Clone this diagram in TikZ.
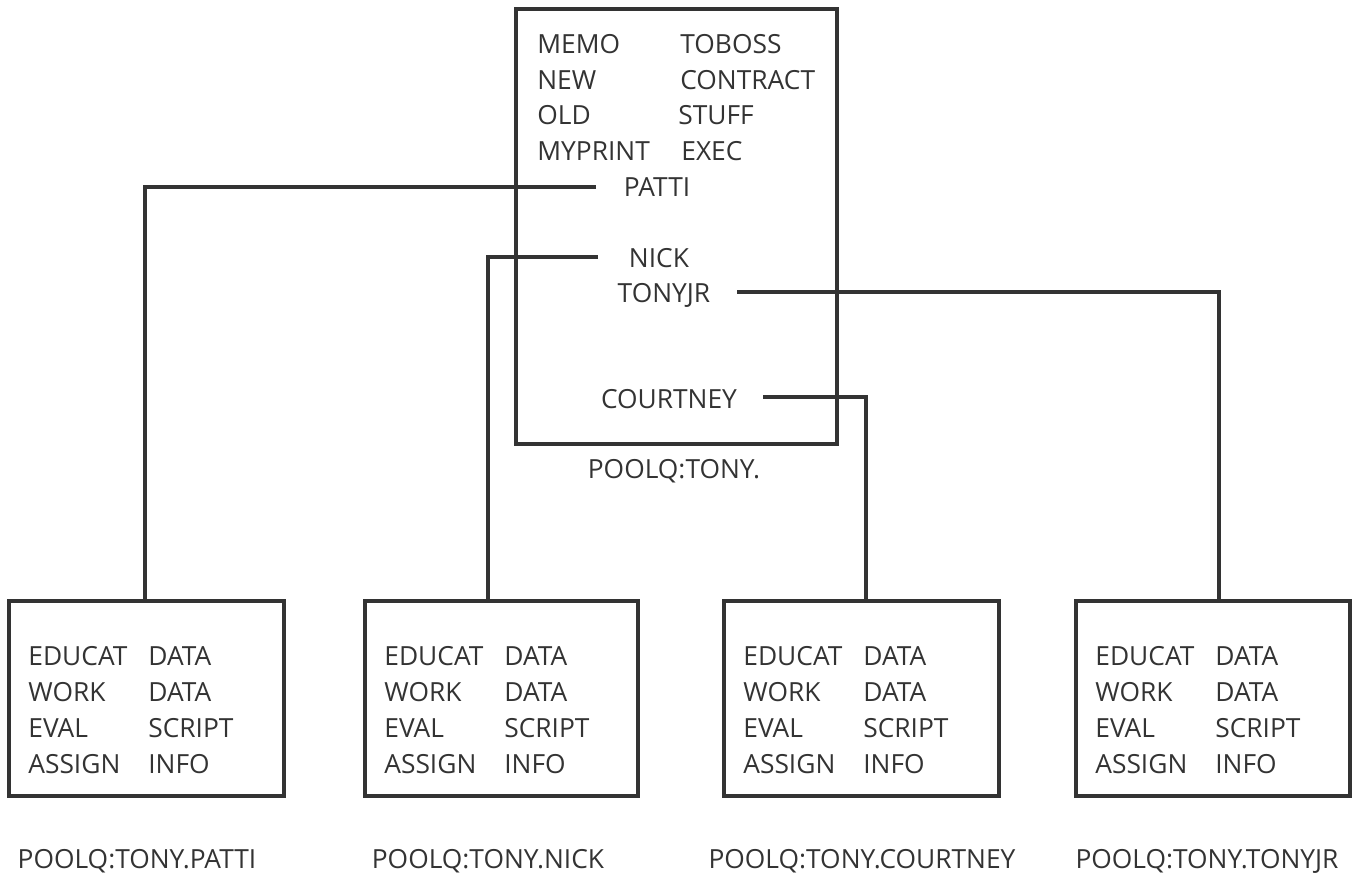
\documentclass[tikz,border=0pt]{standalone}
\usepackage{fontspec}
\setmainfont{Open Sans}
\usepackage{xcolor}
\usetikzlibrary{positioning}
\definecolor{ink}{HTML}{333333}

\begin{document}
\begin{tikzpicture}[x=0.02cm,y=-0.02cm,
  box/.style={draw=ink,line width=2pt,inner sep=0pt},
  txt/.style={anchor=base west,inner sep=0pt,text=ink,font=\fontsize{15}{18}\selectfont},
  lbl/.style={anchor=base,inner sep=0pt,text=ink,font=\fontsize{15}{18}\selectfont},
  link/.style={draw=ink,line width=2pt}]
\useasboundingbox (0,0) rectangle (1353,876);
% top directory
\draw[box] (516,9) rectangle (837,444);
\node[lbl] (top) at (674,478) {POOLQ:TONY.};
\node[txt] (m1) at (537,53) {MEMO};
\node[txt] (m2) at (680,53) {TOBOSS};
\node[txt] (n1) at (537,89) {NEW};
\node[txt] (n2) at (680,89) {CONTRACT};
\node[txt] (o1) at (537,124) {OLD};
\node[txt] (o2) at (678,124) {STUFF};
\node[txt] (p1) at (537,160) {MYPRINT};
\node[txt] (p2) at (681,160) {EXEC};
\node[lbl] (patti) at (657,196) {PATTI};
\node[lbl] (nick) at (659,267) {NICK};
\node[lbl] (tonyjr) at (664,302) {TONYJR};
\node[lbl] (courtney) at (669,408) {COURTNEY};
% sub directories
\foreach \nm/\xa/\xb/\lx/\lt in {P/9/284/137/PATTI, N/365/638/488/NICK, C/724/999/862/COURTNEY, T/1076/1350/1207/TONYJR}{
  \draw[box] (\xa,601) rectangle (\xb,796);
  \node[txt] (e\nm) at (\xa+19,665) {EDUCAT};
  \node[txt] at (\xa+139,665) {DATA};
  \node[txt] at (\xa+19,701) {WORK};
  \node[txt] at (\xa+139,701) {DATA};
  \node[txt] at (\xa+19,737) {EVAL};
  \node[txt] at (\xa+139,737) {SCRIPT};
  \node[txt] at (\xa+19,773) {ASSIGN};
  \node[txt] at (\xa+139,773) {INFO};
  \node[lbl] (l\nm) at (\lx,868) {POOLQ:TONY.\lt};
}
\coordinate (dP) at (145,601);
\coordinate (dN) at (488,601);
\coordinate (dC) at (866,601);
\coordinate (dT) at (1219,601);
% links
\draw[link] (596,187) -| (dP);
\draw[link] (598,257) -| (dN);
\draw[link] (737,292) -| (dT);
\draw[link] (763,397) -| (dC);
\end{tikzpicture}
\end{document}
